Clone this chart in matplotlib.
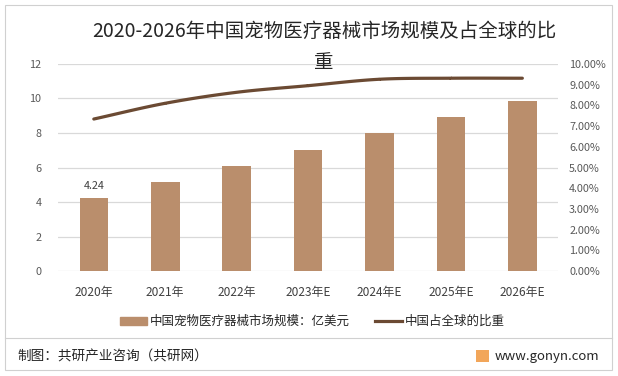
import numpy as np
import matplotlib.pyplot as plt
from matplotlib.lines import Line2D
from matplotlib.patches import Rectangle

plt.rcParams['font.family'] = ['Noto Sans CJK SC', 'DejaVu Sans']

years = ['2020年', '2021年', '2022年', '2023年E', '2024年E', '2025年E', '2026年E']
market_size = [4.24, 5.18, 6.1, 7.02, 8.0, 8.93, 9.88]  # 亿美元
global_share = [7.34, 8.1, 8.63, 8.95, 9.26, 9.31, 9.31]  # %

bar_color = '#BA8E6C'
line_color = '#6B4A33'
tick_color = '#595959'


def smooth(xs, ys, n=20):
    # catmull-rom through the points, just to draw the curve like excel does
    xs = np.asarray(xs, float)
    ys = np.asarray(ys, float)
    px = np.concatenate([[2 * xs[0] - xs[1]], xs, [2 * xs[-1] - xs[-2]]])
    py = np.concatenate([[2 * ys[0] - ys[1]], ys, [2 * ys[-1] - ys[-2]]])
    outx, outy = [], []
    t = np.linspace(0, 1, n)
    for i in range(1, len(px) - 2):
        for arr, out in ((px, outx), (py, outy)):
            p0, p1, p2, p3 = arr[i - 1], arr[i], arr[i + 1], arr[i + 2]
            seg = 0.5 * ((2 * p1) + (-p0 + p2) * t + (2 * p0 - 5 * p1 + 4 * p2 - p3) * t ** 2
                         + (-p0 + 3 * p1 - 3 * p2 + p3) * t ** 3)
            out.extend(seg)
    return np.array(outx), np.array(outy)


fig = plt.figure(figsize=(6.18, 3.76), dpi=100)
ax = fig.add_axes([0.094, 0.279, 0.809, 0.551])
ax2 = ax.twinx()

x = np.arange(len(years))
ax.bar(x, market_size, width=0.4, color=bar_color, zorder=2)
ax.text(x[0], market_size[0] + 0.4, f'{market_size[0]:.2f}', ha='center', va='bottom',
        fontsize=7.8, color='#404040')

sx, sy = smooth(x, global_share)
ax2.plot(sx, sy, color=line_color, lw=2.3, solid_capstyle='round')

ax.set_ylim(0, 12)
ax.set_yticks(range(0, 13, 2))
ax2.set_ylim(0, 10)
ax2.set_yticks(range(0, 11))
ax2.set_yticklabels([f'{v:.2f}%' for v in range(0, 11)])
ax.set_xlim(-0.5, len(years) - 0.5)
ax.set_xticks(x)
ax.set_xticklabels(years)

ax.grid(axis='y', color='#D9D9D9', lw=0.9, zorder=0)
for a in (ax, ax2):
    for s in a.spines.values():
        s.set_visible(False)
    a.tick_params(length=0, labelsize=7.8, labelcolor=tick_color)
ax.tick_params(axis='x', pad=11, labelsize=8.6, labelcolor='#404040')
ax.tick_params(axis='y', pad=12)
ax2.tick_params(axis='y', pad=8)

fig.text(0.524, 0.917, '2020-2026年中国宠物医疗器械市场规模及占全球的比', ha='center', va='center',
         fontsize=14, color='#262626')
fig.text(0.524, 0.834, '重', ha='center', va='center', fontsize=14, color='#262626')

handles = [Rectangle((0, 0), 1, 1, color=bar_color),
           Line2D([0], [0], color=line_color, lw=2.3)]
fig.legend(handles, ['中国宠物医疗器械市场规模：亿美元', '中国占全球的比重'],
           loc='center', bbox_to_anchor=(0.505, 0.145), ncol=2, frameon=False,
           fontsize=9, handlelength=2.2, handleheight=0.6, handletextpad=0.2,
           columnspacing=2.0, labelcolor='#262626')

# frame and footer
fig.patches.append(Rectangle((0.008, 0.016), 0.983, 0.97, transform=fig.transFigure,
                             fill=False, ec='#D0D0D0', lw=0.8))
fig.add_artist(Line2D([0.008, 0.991], [0.1, 0.1], color='#D0D0D0', lw=0.8))
fig.text(0.028, 0.052, '制图：共研产业咨询（共研网）', ha='left', va='center', fontsize=9.8, color='#262626')
fig.patches.append(Rectangle((0.77, 0.036), 0.022, 0.034, transform=fig.transFigure,
                             color='#F2A65A', ec='none'))
fig.text(0.8, 0.052, 'www.gonyn.com', ha='left', va='center', fontsize=9.5, color='#262626')

fig.savefig('out.png', dpi=100)
